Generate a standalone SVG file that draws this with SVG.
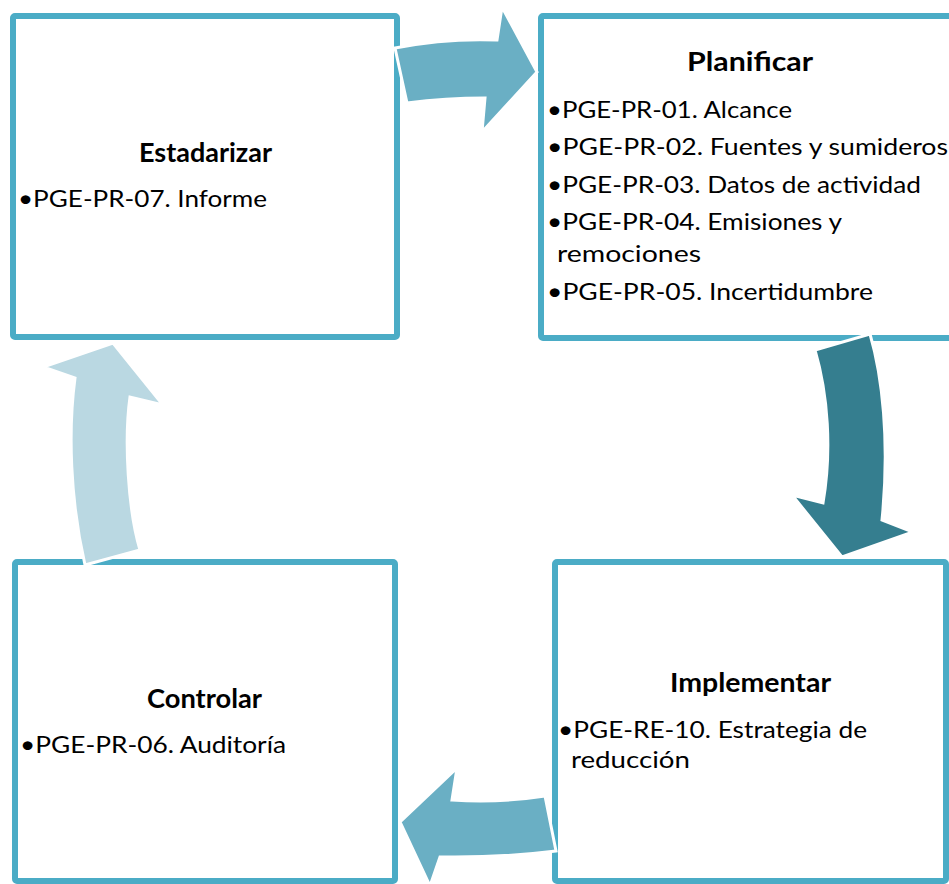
<svg xmlns="http://www.w3.org/2000/svg" width="949" height="884" viewBox="0 0 949 884">
  <style>
    .box { fill: #ffffff; stroke: #4BACC6; stroke-width: 6; }
    .title { font-family: Lato, "Open Sans", "Liberation Sans", sans-serif; font-weight: bold; font-size: 26px; fill: #000000; }
    .item { font-family: Lato, "Open Sans", "Liberation Sans", sans-serif; font-size: 23px; fill: #000000; }
    .arrow { stroke: #ffffff; stroke-width: 3; stroke-linejoin: miter; }
    .mid { fill: #6AAFC4; }
    .dark { fill: #357E8F; }
    .light { fill: #BAD8E2; }
  </style>
  <rect width="949" height="884" fill="#ffffff"/>

  <!-- Estadarizar -->
  <g id="estadarizar">
    <rect class="box" x="13" y="16" width="384" height="321" rx="2"/>
    <text class="title" x="139" y="162" textLength="133" lengthAdjust="spacingAndGlyphs">Estadarizar</text>
    <text class="item" x="18" y="207" textLength="249" lengthAdjust="spacingAndGlyphs">•PGE-PR-07. Informe</text>
  </g>

  <!-- Planificar -->
  <g id="planificar">
    <rect class="box" x="541" y="16" width="420" height="322" rx="2"/>
    <text class="title" x="687" y="71" textLength="126" lengthAdjust="spacingAndGlyphs">Planificar</text>
    <text class="item" x="547" y="118" textLength="245" lengthAdjust="spacingAndGlyphs">•PGE-PR-01. Alcance</text>
    <text class="item" x="547" y="155" textLength="401" lengthAdjust="spacingAndGlyphs">•PGE-PR-02. Fuentes y sumideros</text>
    <text class="item" x="547" y="193" textLength="374" lengthAdjust="spacingAndGlyphs">•PGE-PR-03. Datos de actividad</text>
    <text class="item" x="547" y="230" textLength="295" lengthAdjust="spacingAndGlyphs">•PGE-PR-04. Emisiones y</text>
    <text class="item" x="557" y="262" textLength="144" lengthAdjust="spacingAndGlyphs">remociones</text>
    <text class="item" x="547" y="300" textLength="326" lengthAdjust="spacingAndGlyphs">•PGE-PR-05. Incertidumbre</text>
  </g>

  <!-- Implementar -->
  <g id="implementar">
    <rect class="box" x="555" y="562" width="391" height="319" rx="2"/>
    <text class="title" x="670" y="692" textLength="161" lengthAdjust="spacingAndGlyphs">Implementar</text>
    <text class="item" x="558" y="738" textLength="309" lengthAdjust="spacingAndGlyphs">•PGE-RE-10. Estrategia de</text>
    <text class="item" x="571" y="768" textLength="119" lengthAdjust="spacingAndGlyphs">reducción</text>
  </g>

  <!-- Controlar -->
  <g id="controlar">
    <rect class="box" x="15" y="562" width="380" height="319" rx="2"/>
    <text class="title" x="147" y="708" textLength="115" lengthAdjust="spacingAndGlyphs">Controlar</text>
    <text class="item" x="20" y="753" textLength="266" lengthAdjust="spacingAndGlyphs">•PGE-PR-06. Auditoría</text>
  </g>

  <!-- Curved block arrows of the cycle -->
  <g id="connectors">
    <path class="arrow mid" d="M395,48 Q446,38 497,40 L502,7 L537,72 L482,132 L485,98 Q446,98 407,103 Z"/>
    <path class="arrow dark" d="M815,350 L870,334 C882,375 890,440 882,520 L913,532 L842,557 L792,495 L823,503 C832,450 828,395 815,350 Z"/>
    <path class="arrow mid" d="M545,796 L556,851 Q500,858 440,857 L430,886 L400,822 L457,768 L452,800 Q500,803 545,796 Z"/>
    <path class="arrow light" d="M85,565 L140,550 C128,510 124,440 130,397 L163,405 L113,343 L43,367 L75,378 C68,430 70,500 85,565 Z"/>
  </g>
</svg>
